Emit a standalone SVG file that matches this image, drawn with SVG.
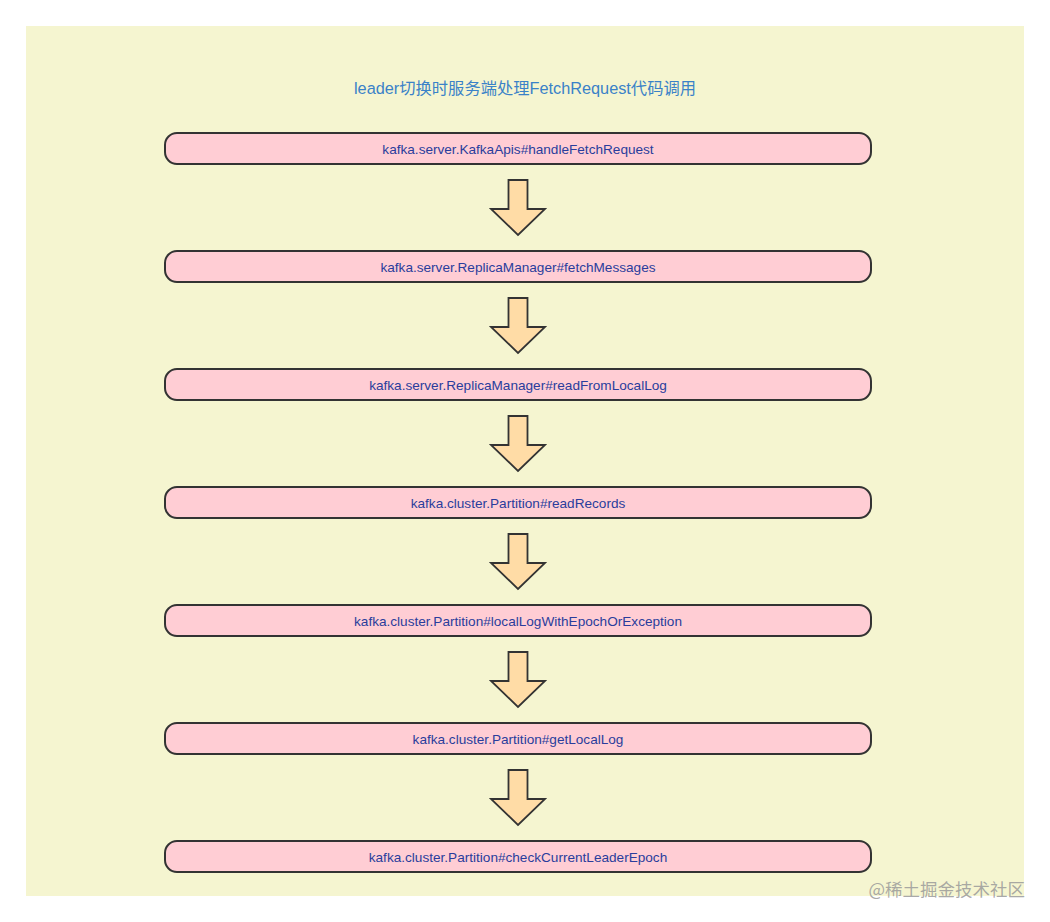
<svg xmlns="http://www.w3.org/2000/svg" width="1050" height="922" viewBox="0 0 1050 922">
<defs>
<style>
.node rect{fill:#ffcdd4;stroke:#333;stroke-width:2}
.node text{font-family:"Liberation Sans","Noto Sans CJK SC",sans-serif;font-size:13.6px;fill:#2a3d9c;text-anchor:middle;dominant-baseline:central}
.arr{fill:#ffdca6;stroke:#333;stroke-width:1.8;stroke-linejoin:miter}
</style>
<path id="ar" class="arr" d="M-9.5,0 H9.5 V29 H27 L0,55 L-27,29 H-9.5 Z"/>
</defs>
<rect x="0" y="0" width="1050" height="922" fill="#ffffff"/>
<rect x="26" y="26" width="998" height="870" fill="#f5f5d0"/>
<text x="525" y="88" font-family="'Liberation Sans','Noto Sans CJK SC',sans-serif" font-size="16.3" fill="#3a82c8" text-anchor="middle" dominant-baseline="central">leader切换时服务端处理FetchRequest代码调用</text>
<g id="connectors">
<use href="#ar" x="518" y="180"/>
<use href="#ar" x="518" y="298"/>
<use href="#ar" x="518" y="416"/>
<use href="#ar" x="518" y="534"/>
<use href="#ar" x="518" y="652"/>
<use href="#ar" x="518" y="770"/>
</g>
<g id="n1" class="node"><rect x="165" y="133" width="706" height="31" rx="12"/><text x="518" y="149">kafka.server.KafkaApis#handleFetchRequest</text></g>
<g id="n2" class="node"><rect x="165" y="251" width="706" height="31" rx="12"/><text x="518" y="267">kafka.server.ReplicaManager#fetchMessages</text></g>
<g id="n3" class="node"><rect x="165" y="369" width="706" height="31" rx="12"/><text x="518" y="385">kafka.server.ReplicaManager#readFromLocalLog</text></g>
<g id="n4" class="node"><rect x="165" y="487" width="706" height="31" rx="12"/><text x="518" y="503">kafka.cluster.Partition#readRecords</text></g>
<g id="n5" class="node"><rect x="165" y="605" width="706" height="31" rx="12"/><text x="518" y="621">kafka.cluster.Partition#localLogWithEpochOrException</text></g>
<g id="n6" class="node"><rect x="165" y="723" width="706" height="31" rx="12"/><text x="518" y="739">kafka.cluster.Partition#getLocalLog</text></g>
<g id="n7" class="node"><rect x="165" y="841" width="706" height="31" rx="12"/><text x="518" y="857">kafka.cluster.Partition#checkCurrentLeaderEpoch</text></g>
<text x="1025" y="888" font-family="'Noto Sans CJK SC',sans-serif" font-size="17.5" fill="#9a9a9a" fill-opacity="0.85" text-anchor="end" dominant-baseline="central">@稀土掘金技术社区</text>
</svg>
